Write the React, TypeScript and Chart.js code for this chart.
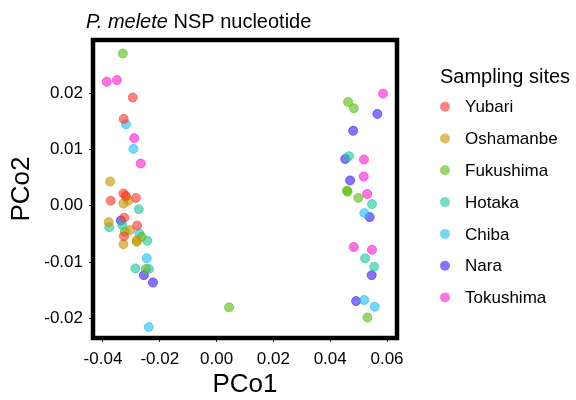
import React, { useEffect, useRef } from "react";
import { Chart, registerables } from "chart.js";

Chart.register(...registerables);

const sites = ["Yubari", "Oshamanbe", "Fukushima", "Hotaka", "Chiba", "Nara", "Tokushima"];
const siteColors = [
  "rgba(255,60,50,0.62)",
  "rgba(200,150,0,0.62)",
  "rgba(90,190,20,0.62)",
  "rgba(30,200,160,0.62)",
  "rgba(30,190,240,0.62)",
  "rgba(60,30,255,0.62)",
  "rgba(255,30,210,0.62)",
];

const yubari = [
  [-0.0295, 0.0192], [-0.0327, 0.0154], [-0.0328, 0.0022], [-0.032, 0.0018],
  [-0.0373, 0.0009], [-0.0284, 0.0014], [-0.0325, -0.0021], [-0.028, -0.0035],
  [-0.0326, -0.0054],
];
const oshamanbe = [
  [-0.0375, 0.0043], [-0.0319, 0.0016], [-0.0328, 0.0004], [-0.0311, 0.0009],
  [-0.038, -0.0029], [-0.0305, -0.0043], [-0.0281, -0.0061], [-0.0281, -0.0064],
  [-0.0328, -0.0068],
];
const fukushima = [
  [-0.033, 0.027], [-0.0323, -0.0046], [-0.0264, -0.0055], [-0.0249, -0.0112],
  [0.0044, -0.018], [0.0463, 0.0184], [0.0483, 0.0173], [0.0459, 0.0027],
  [0.0461, 0.0025], [0.0499, 0.0014], [0.0531, -0.0198],
];
const hotaka = [
  [-0.0274, -0.0006], [-0.0378, -0.0038], [-0.0332, -0.0034], [-0.0244, -0.0062],
  [-0.0286, -0.0111], [0.0466, 0.0088], [0.0547, 0.0003], [0.0523, -0.0093],
  [0.0555, -0.0108],
];
const chiba = [
  [-0.0319, 0.01445], [-0.0293, 0.0101], [-0.0272, -0.0049], [-0.0246, -0.0093],
  [-0.0238, -0.0112], [-0.0239, -0.0215], [0.052, -0.0013], [0.052, -0.0167],
  [0.0557, -0.0179],
];
const nara = [
  [-0.0337, -0.0026], [-0.0256, -0.0123], [-0.0224, -0.0136], [0.0566, 0.0163],
  [0.0481, 0.0133], [0.0453, 0.0083], [0.047, 0.0045], [0.0539, -0.002],
  [0.0546, -0.0123], [0.0491, -0.0169],
];
const tokushima = [
  [-0.0387, 0.022], [-0.0351, 0.0223], [-0.029, 0.012], [-0.0267, 0.0075],
  [0.0586, 0.0199], [0.0519, 0.0082], [0.0518, 0.0052], [0.053, 0.0021],
  [0.0483, -0.0073], [0.0547, -0.0078],
];
const siteData = [yubari, oshamanbe, fukushima, hotaka, chiba, nara, tokushima];

const xTicks = [-0.04, -0.02, 0.0, 0.02, 0.04, 0.06];
const yTicks = [-0.02, -0.01, 0.0, 0.01, 0.02];
const xRange = [-0.04352, 0.06352];
const yRange = [-0.02344, 0.0294];

const FONT = "'Liberation Sans', Arial, Helvetica, sans-serif";

const framePlugin = {
  id: "frameAndText",
  afterDraw(chart: any) {
    const { ctx, chartArea } = chart;
    ctx.save();
    // panel border
    ctx.strokeStyle = "#000";
    ctx.lineWidth = 4.5;
    ctx.strokeRect(chartArea.left, chartArea.top, chartArea.right - chartArea.left, chartArea.bottom - chartArea.top);
    // title
    ctx.fillStyle = "#000";
    ctx.textBaseline = "alphabetic";
    ctx.textAlign = "left";
    ctx.font = `italic 20px ${FONT}`;
    const t1 = "P. melete";
    ctx.fillText(t1, 86, 28);
    const w1 = ctx.measureText(t1).width;
    ctx.font = `20px ${FONT}`;
    ctx.fillText(" NSP nucleotide", 86 + w1, 28);
    // legend
    ctx.font = `20px ${FONT}`;
    ctx.fillText("Sampling sites", 440, 83);
    ctx.font = `17px ${FONT}`;
    ctx.textBaseline = "middle";
    sites.forEach((s, i) => {
      const y = 106.7 + i * 31.8;
      ctx.beginPath();
      ctx.arc(445, y, 5, 0, Math.PI * 2);
      ctx.fillStyle = siteColors[i];
      ctx.fill();
      ctx.fillStyle = "#000";
      ctx.fillText(s, 465, y + 1);
    });
    ctx.restore();
  },
};

export default function App() {
  const ref = useRef<HTMLCanvasElement>(null);
  useEffect(() => {
    if (!ref.current) return;
    const chart = new Chart(ref.current, {
      type: "scatter",
      data: {
        datasets: sites.map((s, i) => ({
          label: s,
          data: siteData[i].map(([x, y]) => ({ x, y })),
          backgroundColor: siteColors[i],
          borderColor: siteColors[i],
          borderWidth: 1,
          pointRadius: 4.5,
        })),
      },
      options: {
        animation: false,
        responsive: false,
        layout: { padding: { top: 40, right: 179, bottom: 0, left: 0 } },
        plugins: { legend: { display: false }, tooltip: { enabled: false }, title: { display: false } },
        scales: {
          x: {
            type: "linear",
            min: xRange[0],
            max: xRange[1],
            afterBuildTicks: (scale: any) => {
              scale.ticks = xTicks.map((v) => ({ value: v }));
            },
            afterFit: (scale: any) => {
              scale.height = 62;
            },
            ticks: {
              callback: (v: any) => Number(v).toFixed(2),
              font: { family: FONT, size: 17 },
              color: "#000",
              padding: 7,
              autoSkip: false,
              maxRotation: 0,
            },
            grid: { drawOnChartArea: false, drawTicks: true, tickLength: 4, color: "#4a2020", lineWidth: 1 },
            border: { display: false },
            title: {
              display: true,
              text: "PCo1",
              font: { family: FONT, size: 26 },
              color: "#000",
              padding: { top: 0, bottom: 0 },
            },
          },
          y: {
            type: "linear",
            min: yRange[0],
            max: yRange[1],
            afterBuildTicks: (scale: any) => {
              scale.ticks = yTicks.map((v) => ({ value: v }));
            },
            afterFit: (scale: any) => {
              scale.width = 93;
            },
            ticks: {
              callback: (v: any) => Number(v).toFixed(2),
              font: { family: FONT, size: 17 },
              color: "#000",
              padding: 6,
              autoSkip: false,
            },
            grid: { drawOnChartArea: false, drawTicks: true, tickLength: 4, color: "#4a2020", lineWidth: 1 },
            border: { display: false },
            title: {
              display: true,
              text: "PCo2",
              font: { family: FONT, size: 26 },
              color: "#000",
              padding: { top: 6, bottom: 0 },
            },
          },
        },
      },
      plugins: [framePlugin],
    });
    return () => chart.destroy();
  }, []);
  return (
    <canvas
      ref={ref}
      width={576}
      height={400}
      style={{ position: "absolute", left: 0, top: 0, display: "block" }}
    />
  );
}
